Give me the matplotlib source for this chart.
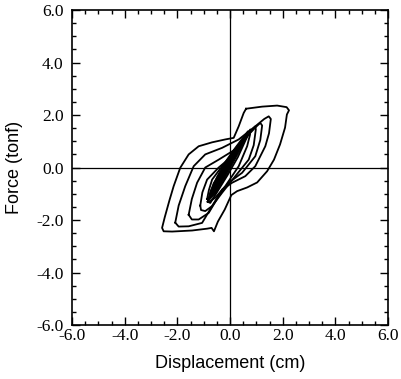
import numpy as np
import matplotlib
matplotlib.use("Agg")
import matplotlib.pyplot as plt
from matplotlib.ticker import MultipleLocator, FormatStrFormatter

plt.rcParams['axes.unicode_minus'] = False

# hysteresis loops (displacement cm, force tonf)
loop6_x = [0.61, 1.22, 1.79, 2.15, 2.24, 2.16, 2.09, 1.90, 1.67, 1.41, 1.03, 0.65, 0.27, 0.05,
           -0.20, -0.46, -0.61, -0.70, -0.87, -1.44, -2.20, -2.52, -2.58, -2.48, -2.30, -2.14,
           -1.89, -1.57, -1.19, -0.68, -0.18, 0.14, 0.33, 0.52, 0.61]
loop6_y = [2.24, 2.32, 2.36, 2.30, 2.18, 2.02, 1.52, 0.88, 0.30, -0.14, -0.57, -0.76, -0.90, -1.05,
           -1.60, -2.06, -2.43, -2.30, -2.33, -2.40, -2.44, -2.43, -2.30, -1.90, -1.25, -0.71,
           -0.01, 0.50, 0.81, 0.96, 1.07, 1.13, 1.57, 2.08, 2.24]

loop5_x = [-2.08, -1.95, -1.70, -1.38, -0.94, -0.30, 0.33, 0.96, 1.30, 1.47, 1.55, 1.48, 1.34,
           0.96, 0.58, 0.08, -0.30, -0.68, -1.06, -1.57, -1.95, -2.08]
loop5_y = [-2.10, -1.45, -0.71, 0.05, 0.50, 0.75, 1.07, 1.57, 1.85, 1.95, 1.85, 1.30, 0.81,
           0.05, -0.33, -0.58, -0.84, -1.47, -2.11, -2.24, -2.25, -2.10]

loop4_x = [-1.57, -1.45, -1.25, -0.94, -0.43, 0.20, 0.71, 1.02, 1.15, 1.22, 1.15, 0.96, 0.46,
           -0.05, -0.43, -0.81, -1.19, -1.45, -1.57]
loop4_y = [-1.80, -1.20, -0.58, 0.00, 0.30, 0.69, 1.26, 1.58, 1.70, 1.60, 1.05, 0.43, -0.20,
           -0.58, -1.09, -1.73, -1.98, -1.98, -1.80]

loop3_x = [-1.13, -1.05, -0.87, -0.43, 0.08, 0.58, 0.85, 0.96, 0.98, 0.90, 0.71, 0.20, -0.30,
           -0.68, -0.94, -1.10, -1.13]
loop3_y = [-1.45, -0.95, -0.46, 0.00, 0.43, 1.07, 1.45, 1.57, 1.45, 0.85, 0.30, -0.33, -0.96,
           -1.47, -1.66, -1.62, -1.45]

loop2_x = [-0.87, -0.80, -0.68, -0.30, 0.20, 0.60, 0.77, 0.76, 0.65, 0.33, -0.18, -0.56, -0.78, -0.87]
loop2_y = [-1.20, -0.85, -0.46, 0.05, 0.62, 1.20, 1.45, 1.25, 0.81, 0.05, -0.71, -1.15, -1.30, -1.20]

loop1_x = [-0.85, -0.62, -0.25, 0.20, 0.55, 0.68, 0.64, 0.30, -0.10, -0.50, -0.75, -0.85]
loop1_y = [-1.30, -0.60, -0.02, 0.60, 1.20, 1.38, 1.15, 0.40, -0.30, -0.95, -1.35, -1.30]

core_x = [-0.85, -0.75, -0.50, -0.20, 0.15, 0.45, 0.60, 0.55, 0.35, 0.05, -0.25, -0.55, -0.85]
core_y = [-1.30, -0.90, -0.35, 0.20, 0.70, 1.10, 1.25, 1.00, 0.60, 0.05, -0.50, -1.00, -1.30]

loops = [(loop6_x, loop6_y), (loop5_x, loop5_y), (loop4_x, loop4_y),
         (loop3_x, loop3_y), (loop2_x, loop2_y), (loop1_x, loop1_y)]

fig = plt.figure(figsize=(4.01, 3.79), dpi=100)
ax = fig.add_axes([0.1796, 0.1425, 0.788, 0.831])

ax.axhline(0, color="black", lw=0.9)
ax.axvline(0, color="black", lw=0.9)

for lx, ly in loops:
    ax.plot(lx, ly, color="black", lw=1.3, solid_joinstyle="round")
ax.fill(core_x, core_y, color="black", lw=0.8)

ax.set_xlim(-6, 6)
ax.set_ylim(-6, 6)
ax.xaxis.set_major_locator(MultipleLocator(2))
ax.xaxis.set_minor_locator(MultipleLocator(0.5))
ax.yaxis.set_major_locator(MultipleLocator(2))
ax.yaxis.set_minor_locator(MultipleLocator(0.5))
ax.xaxis.set_major_formatter(FormatStrFormatter("%.1f"))
ax.yaxis.set_major_formatter(FormatStrFormatter("%.1f"))
ax.tick_params(which="both", direction="in", top=True, right=True, width=1.0)
ax.tick_params(which="major", length=6)
ax.tick_params(which="minor", length=3)
ax.tick_params(axis="x", pad=2)
ax.tick_params(axis="y", pad=6)
for lab in ax.get_xticklabels() + ax.get_yticklabels():
    lab.set_fontfamily("Liberation Serif")
    lab.set_fontsize(12.5)
for s in ax.spines.values():
    s.set_linewidth(1.2)

ax.set_xlabel("Displacement (cm)", fontfamily="Liberation Sans", fontsize=13)
ax.set_ylabel("Force (tonf)", fontfamily="Liberation Sans", fontsize=13)
ax.xaxis.set_label_coords(0.5, -0.095)
ax.yaxis.set_label_coords(-0.155, 0.5)

fig.savefig("out.png", dpi=100)
